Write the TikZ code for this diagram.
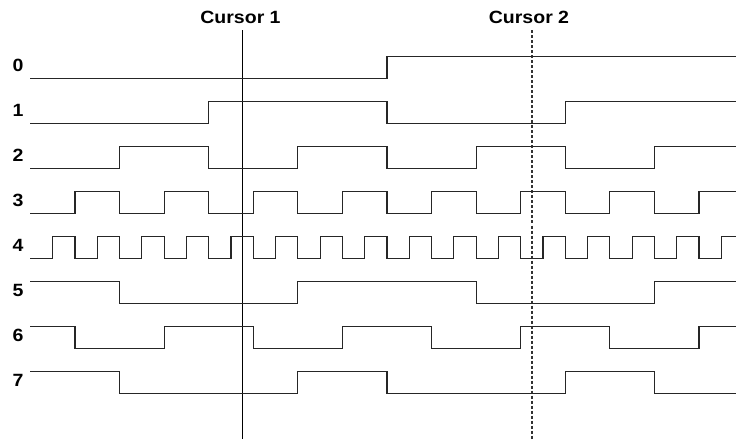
\documentclass[tikz,border=0pt]{standalone}
\usepackage{fontspec}
\setmainfont{Liberation Sans}
\newfontfamily\labfont[FakeStretch=1.1]{Liberation Sans}
\begin{document}
\begin{tikzpicture}[x=1bp,y=-1bp,
  wave/.style={line width=1.1bp, draw=black!85, line join=miter},
  lab/.style={font=\labfont\fontsize{17.8}{18}\selectfont\bfseries, inner sep=0pt, anchor=center},
  cursorA/.style={line width=1.1bp, draw=black},
  cursorB/.style={line width=1.2bp, draw=black!80, dash pattern=on 3bp off 2bp}]
\useasboundingbox (0,0) rectangle (736,439);
% signal labels
\foreach \r in {0,...,7}{
  \node[lab] (l\r) at (18,{65.5+45*\r}) {\r};
}
% cursor labels and lines
\node[lab] (cur1) at (240.5,17) {Cursor 1};
\node[lab] (cur2) at (529,17) {Cursor 2};
\coordinate (c1t) at (242.2,30.5);
\coordinate (c1b) at (242.2,439);
\coordinate (c2t) at (531.9,30.5);
\coordinate (c2b) at (531.9,439);
\draw[cursorA] (c1t) -- (c1b);
\draw[cursorB] (c2t) -- (c2b);
% waveforms
\begin{scope}[x=22.287bp, xshift=30.41bp]
\draw[wave] (0,78.7) -| (16,56.4) -- (31.7,56.4);
\draw[wave] (0,123.7) -| (8,101.4) -| (16,123.7) -| (24,101.4) -- (31.7,101.4);
\draw[wave] (0,168.7) -| (4,146.4) -| (8,168.7) -| (12,146.4) -| (16,168.7) -| (20,146.4) -| (24,168.7) -| (28,146.4) -- (31.7,146.4);
\draw[wave] (0,213.7) foreach \i in {2,6,...,26} { -| (\i,191.4) -| (\i+2,213.7) } -| (30,191.4) -- (31.7,191.4);
\draw[wave] (0,258.7) foreach \i in {1,3,...,29} { -| (\i,236.4) -| (\i+1,258.7) } -| (31,236.4) -- (31.7,236.4);
\draw[wave] (0,281.4) -| (4,303.7) -| (12,281.4) -| (20,303.7) -| (28,281.4) -- (31.7,281.4);
\draw[wave] (0,326.4) -| (2,348.7) -| (6,326.4) -| (10,348.7) -| (14,326.4) -| (18,348.7) -| (22,326.4) -| (26,348.7) -| (30,326.4) -- (31.7,326.4);
\draw[wave] (0,371.4) -| (4,393.7) -| (12,371.4) -| (16,393.7) -| (24,371.4) -| (28,393.7) -- (31.7,393.7);
\end{scope}
\end{tikzpicture}
\end{document}
